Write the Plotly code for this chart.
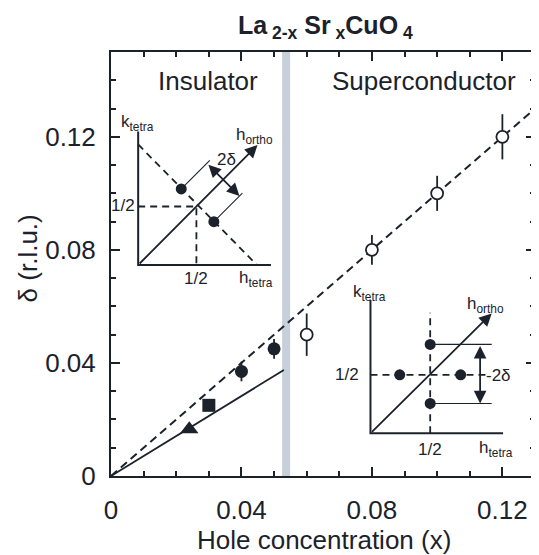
import plotly.graph_objects as go

# ---------------- data ----------------
# Insulator region (filled symbols)
ins_circle_x = [0.04, 0.05]
ins_circle_y = [0.037, 0.045]
ins_circle_err = [0.0035, 0.0035]
ins_square_x = [0.030]
ins_square_y = [0.025]
ins_triangle_x = [0.024]
ins_triangle_y = [0.0165]
# Superconductor region (open circles)
sc_x = [0.06, 0.08, 0.10, 0.12]
sc_y = [0.050, 0.080, 0.100, 0.120]
sc_err = [0.0075, 0.0053, 0.0062, 0.008]
# guide lines
dashed_x = [0.0, 0.13]
dashed_y = [0.0, 0.13]
solid_x = [0.0, 0.053]
solid_y = [0.0, 0.0375]
# insulator / superconductor boundary
boundary_x = 0.0537
# tick labels
tick_vals = [0, 0.04, 0.08, 0.12]
tick_text = ["0", "0.04", "0.08", "0.12"]

# inset 1 (diagonal incommensurate peaks) - schematic units (1/2 = centre)
in1_axis_x = [0, 0, 1.14]
in1_axis_y = [1.14, 0, 0]
in1_anti_x = [0, 1.02]
in1_anti_y = [1.03, 0]
in1_half_x = [0, 0.5, 0.5]
in1_half_y = [0.5, 0.5, 0]
in1_dots_x = [0.37, 0.65]
in1_dots_y = [0.65, 0.37]
in1_thin1_x = [0.37, 0.615]
in1_thin1_y = [0.65, 0.895]
in1_thin2_x = [0.65, 0.895]
in1_thin2_y = [0.37, 0.615]
in1_arrow = (0.0, 0.0, 1.025, 1.025)
in1_double = (0.59, 0.87, 0.87, 0.59)

# inset 2 (parallel incommensurate peaks)
in2_axis_x = [0, 0, 1.11]
in2_axis_y = [1.14, 0, 0]
in2_vdash_x = [0.5, 0.5]
in2_vdash_y = [0, 1.03]
in2_hdash_x = [0, 0.985]
in2_hdash_y = [0.5, 0.5]
in2_dots_x = [0.5, 0.5, 0.245, 0.755]
in2_dots_y = [0.76, 0.255, 0.5, 0.5]
in2_thin_top_x = [0.5, 1.015]
in2_thin_top_y = [0.76, 0.76]
in2_thin_bot_x = [0.5, 1.015]
in2_thin_bot_y = [0.255, 0.255]
in2_arrow = (0.0, 0.0, 1.015, 1.025)
in2_double = (0.918, 0.76, 0.918, 0.255)

# ---------------- style / layout ----------------
INK = "#1c222b"
BAND = "#c6cfda"
FONT = "Liberation Sans, Arial, Helvetica, sans-serif"
OFF = 8                      # page body margin of the html output
W, H = 539, 555              # reference canvas
L, R, T, B = 111, 2, 52, 79  # plot area in reference pixels
pw, ph = W - L - R, H - T - B


def dx(p0, p1):
    return [(p0 - L) / pw, (p1 - L) / pw]


def dy(pb, pt):
    return [(H - B - pb) / ph, (H - B - pt) / ph]


def px(p):
    return (p - L) / pw


def py(p):
    return (H - B - p) / ph


fig = go.Figure()

# main guide lines
fig.add_trace(go.Scatter(x=dashed_x, y=dashed_y, mode="lines",
                         line=dict(color=INK, width=2, dash="8px,5px"),
                         hoverinfo="skip"))
fig.add_trace(go.Scatter(x=solid_x, y=solid_y, mode="lines",
                         line=dict(color=INK, width=1.8), hoverinfo="skip"))

errstyle = dict(type="data", color=INK, thickness=1.8, width=0)
fig.add_trace(go.Scatter(x=sc_x, y=sc_y, mode="markers",
                         error_y=dict(array=sc_err, **errstyle),
                         marker=dict(symbol="circle", size=12, color="white",
                                     line=dict(color=INK, width=1.8))))
fig.add_trace(go.Scatter(x=ins_circle_x, y=ins_circle_y, mode="markers",
                         error_y=dict(array=ins_circle_err, **errstyle),
                         marker=dict(symbol="circle", size=13, color=INK)))
fig.add_trace(go.Scatter(x=ins_square_x, y=ins_square_y, mode="markers",
                         marker=dict(symbol="square", size=13, color=INK)))
fig.add_trace(go.Scatter(x=ins_triangle_x, y=ins_triangle_y, mode="markers",
                         marker=dict(symbol="triangle-up", size=16, color=INK)))


def line_tr(x, y, xa, ya, width=1.8, dash=None):
    return go.Scatter(x=x, y=y, xaxis=xa, yaxis=ya, mode="lines",
                      line=dict(color=INK, width=width, dash=dash),
                      hoverinfo="skip", cliponaxis=False)


DASH = "7px,5px"
# ---- inset 1 ----
fig.add_trace(line_tr(in1_axis_x, in1_axis_y, "x2", "y2", 2))
fig.add_trace(line_tr(in1_anti_x, in1_anti_y, "x2", "y2", 1.8, DASH))
fig.add_trace(line_tr(in1_half_x, in1_half_y, "x2", "y2", 1.8, DASH))
fig.add_trace(line_tr(in1_thin1_x, in1_thin1_y, "x2", "y2", 1.1))
fig.add_trace(line_tr(in1_thin2_x, in1_thin2_y, "x2", "y2", 1.1))
fig.add_trace(go.Scatter(x=in1_dots_x, y=in1_dots_y, xaxis="x2", yaxis="y2",
                         mode="markers", marker=dict(size=11, color=INK),
                         cliponaxis=False))

# ---- inset 2 ----
fig.add_trace(line_tr(in2_axis_x, in2_axis_y, "x3", "y3", 2))
fig.add_trace(line_tr(in2_vdash_x, in2_vdash_y, "x3", "y3", 1.8, DASH))
fig.add_trace(line_tr(in2_hdash_x, in2_hdash_y, "x3", "y3", 1.8, DASH))
fig.add_trace(line_tr(in2_thin_top_x, in2_thin_top_y, "x3", "y3", 1.1))
fig.add_trace(line_tr(in2_thin_bot_x, in2_thin_bot_y, "x3", "y3", 1.1))
fig.add_trace(go.Scatter(x=in2_dots_x, y=in2_dots_y, xaxis="x3", yaxis="y3",
                         mode="markers", marker=dict(size=11, color=INK),
                         cliponaxis=False))

ann = []


def arrow(spec, xr, yr, double=False):
    x0, y0, x1, y1 = spec
    d = dict(x=x1, y=y1, ax=x0, ay=y0, xref=xr, yref=yr, axref=xr, ayref=yr,
             text="", showarrow=True, arrowhead=2, arrowsize=1.4,
             arrowwidth=1.8, arrowcolor=INK, standoff=0, startstandoff=0)
    if double:
        d.update(arrowside="end+start", startarrowhead=2, startarrowsize=1.4)
    return d


ann.append(arrow(in1_arrow, "x2", "y2"))
ann.append(arrow(in1_double, "x2", "y2", True))
ann.append(arrow(in2_arrow, "x3", "y3"))
ann.append(arrow(in2_double, "x3", "y3", True))


def txt(text, x, y, xr, yr, size=17, xanchor="center", yanchor="middle", **kw):
    return dict(text=text, x=x, y=y, xref=xr, yref=yr, showarrow=False,
                xanchor=xanchor, yanchor=yanchor,
                font=dict(family=FONT, size=size, color=INK), **kw)


# inset 1 labels
ann += [
    txt("k<sub>tetra</sub>", -0.007, 1.21, "x2", "y2"),
    txt("h<sub>ortho</sub>", 0.997, 1.10, "x2", "y2"),
    txt("2δ", 0.755, 0.90, "x2", "y2"),
    txt("1/2", -0.01, 0.505, "x2", "y2", xanchor="right"),
    txt("1/2", 0.5, -0.115, "x2", "y2"),
    txt("h<sub>tetra</sub>", 1.012, -0.12, "x2", "y2"),
]
# inset 2 labels
ann += [
    txt("k<sub>tetra</sub>", -0.008, 1.195, "x3", "y3"),
    txt("h<sub>ortho</sub>", 0.965, 1.10, "x3", "y3"),
    txt("-2δ", 1.07, 0.49, "x3", "y3"),
    txt("1/2", -0.08, 0.5, "x3", "y3", xanchor="right"),
    txt("1/2", 0.5, -0.14, "x3", "y3"),
    txt("h<sub>tetra</sub>", 1.055, -0.13, "x3", "y3"),
]
# region labels, title, axis titles
ann += [
    txt("Insulator", px(208), py(81), "paper", "paper", size=26),
    txt("Superconductor", px(425), py(81), "paper", "paper", size=26),
    txt("<b>La<sub> 2-x</sub> Sr<sub> x</sub>CuO<sub> 4</sub></b>", px(327), py(27),
        "paper", "paper", size=25),
    txt("Hole concentration (x)", px(325), py(540), "paper", "paper", size=26),
    txt("δ (r.l.u.)", px(28), py(258), "paper", "paper", size=26, textangle=-90),
]

axis_common = dict(showline=True, linecolor=INK, linewidth=2, mirror="allticks",
                   ticks="inside", ticklen=9, tickwidth=1.5, tickcolor=INK,
                   showgrid=False, zeroline=False,
                   tickfont=dict(family=FONT, size=26, color=INK),
                   tickmode="array", tickvals=tick_vals, ticktext=tick_text,
                   minor=dict(tickmode="linear", tick0=0, dtick=0.01, ticks="inside",
                              ticklen=5, tickwidth=1.5, tickcolor=INK, showgrid=False))

inv = dict(visible=False, showgrid=False, zeroline=False, fixedrange=True)

fig.update_layout(
    width=W - OFF, height=H - OFF,
    margin=dict(l=L - OFF, r=R, t=T - OFF, b=B),
    paper_bgcolor="white", plot_bgcolor="rgba(0,0,0,0)",
    showlegend=False,
    xaxis=dict(range=[0, 0.13], ticklabelstandoff=10, **axis_common),
    yaxis=dict(range=[0, 0.15], ticklabelstandoff=8, **axis_common),
    xaxis2=dict(domain=dx(138.3 - 0.2 * 117, 138.3 + 1.3 * 117), range=[-0.2, 1.3],
                anchor="y2", **inv),
    yaxis2=dict(domain=dy(265 + 0.25 * 117, 265 - 1.3 * 117), range=[-0.25, 1.3],
                anchor="x2", **inv),
    xaxis3=dict(domain=dx(371.7 - 0.3 * 120, 371.7 + 1.3 * 120), range=[-0.3, 1.3],
                anchor="y3", **inv),
    yaxis3=dict(domain=dy(433.3 + 0.3 * 117, 433.3 - 1.3 * 117), range=[-0.3, 1.3],
                anchor="x3", **inv),
    shapes=[dict(type="line", xref="x", yref="paper", x0=boundary_x, x1=boundary_x,
                 y0=0, y1=1, line=dict(color=BAND, width=8), layer="below")],
    annotations=ann,
    font=dict(family=FONT, color=INK),
)

fig.write_html("out.html")
